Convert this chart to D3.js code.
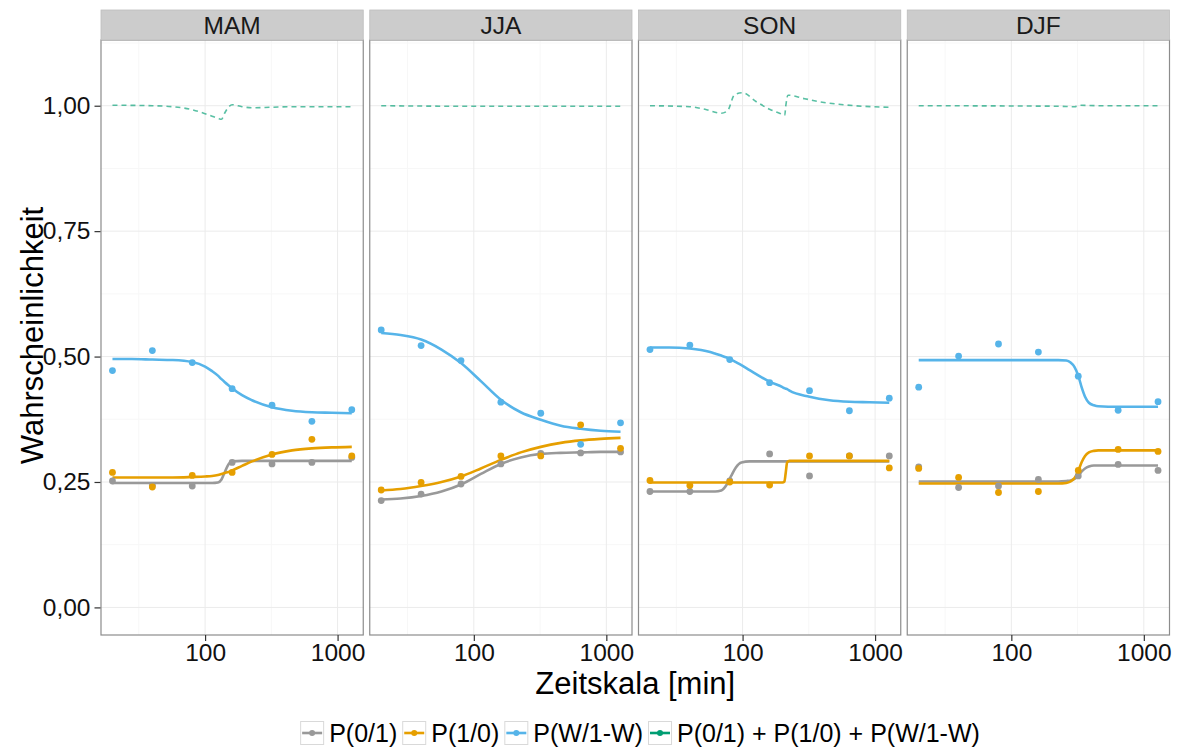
<!DOCTYPE html>
<html>
<head>
<meta charset="utf-8">
<script src="https://cdn.jsdelivr.net/npm/d3@7"></script>
<style>
  html, body { margin: 0; padding: 0; background: #ffffff; }
  svg { display: block; font-family: "Liberation Sans", Arial, sans-serif; }
</style>
</head>
<body>
<svg id="chart" width="1177" height="749"></svg>
<script>
// ---------------- DATA ----------------
const panels = ["MAM", "JJA", "SON", "DJF"];
const seriesNames = ["P(0/1)", "P(1/0)", "P(W/1-W)", "P(0/1) + P(1/0) + P(W/1-W)"];
const seriesColors = ["#999999", "#E69F00", "#56B4E9", "#009E73"];
const yTicks = [0, 0.25, 0.5, 0.75, 1.0];
const yTickLabels = ["0,00", "0,25", "0,50", "0,75", "1,00"];
const xTicks = [100, 1000];
const xTickLabels = ["100", "1000"];

// observed points (x = time scale in minutes)
const obsX = [20, 40, 80, 160, 320, 640, 1280];
const obsP01_MAM = [0.252, 0.243, 0.242, 0.289, 0.286, 0.289, 0.299];
const obsP10_MAM = [0.269, 0.240, 0.263, 0.269, 0.305, 0.335, 0.302];
const obsPW_MAM  = [0.472, 0.512, 0.488, 0.436, 0.403, 0.371, 0.394];
const obsP01_JJA = [0.213, 0.226, 0.246, 0.286, 0.307, 0.308, 0.310];
const obsP10_JJA = [0.234, 0.249, 0.261, 0.302, 0.302, 0.364, 0.317];
const obsPW_JJA  = [0.553, 0.522, 0.492, 0.409, 0.387, 0.325, 0.368];
const obsP01_SON = [0.231, 0.231, 0.252, 0.306, 0.262, 0.302, 0.302];
const obsP10_SON = [0.253, 0.243, 0.250, 0.244, 0.302, 0.302, 0.278];
const obsPW_SON  = [0.514, 0.523, 0.494, 0.448, 0.432, 0.392, 0.417];
const obsP01_DJF = [0.280, 0.239, 0.242, 0.255, 0.262, 0.285, 0.273];
const obsP10_DJF = [0.277, 0.259, 0.229, 0.231, 0.273, 0.315, 0.311];
const obsPW_DJF  = [0.439, 0.501, 0.525, 0.509, 0.461, 0.393, 0.410];

// fitted curves
const fitX_MAM   = [20, 28, 40, 57, 80, 100, 113, 125, 133, 141, 150, 160, 190, 226, 320, 453, 640, 905, 1280];
const fitP01_MAM = [0.248, 0.248, 0.248, 0.248, 0.248, 0.248, 0.248, 0.249, 0.255, 0.270, 0.285, 0.291, 0.292, 0.292, 0.292, 0.292, 0.292, 0.292, 0.292];
const fitP10_MAM = [0.259, 0.259, 0.259, 0.259, 0.260, 0.261, 0.262, 0.264, 0.266, 0.268, 0.270, 0.273, 0.282, 0.291, 0.305, 0.313, 0.317, 0.319, 0.320];
const fitPW_MAM  = [0.495, 0.495, 0.494, 0.493, 0.489, 0.480, 0.471, 0.462, 0.455, 0.449, 0.443, 0.437, 0.423, 0.413, 0.399, 0.392, 0.389, 0.388, 0.387];
const sumX_MAM   = [20, 40, 57, 80, 100, 113, 125, 133, 141, 150, 160, 190, 226, 320, 453, 640, 905, 1280];
const sum_MAM    = [1.001, 1.000, 0.998, 0.992, 0.984, 0.979, 0.975, 0.973, 0.986, 0.997, 1.002, 0.998, 0.996, 0.997, 0.998, 0.998, 0.998, 0.998];

const fitX_JJA   = [20, 28, 40, 57, 80, 113, 160, 226, 320, 453, 640, 905, 1280];
const fitP01_JJA = [0.215, 0.217, 0.222, 0.231, 0.245, 0.266, 0.286, 0.299, 0.306, 0.308, 0.309, 0.310, 0.310];
const fitP10_JJA = [0.233, 0.236, 0.242, 0.250, 0.261, 0.277, 0.294, 0.309, 0.320, 0.328, 0.333, 0.336, 0.338];
const fitPW_JJA  = [0.547, 0.543, 0.534, 0.514, 0.487, 0.451, 0.414, 0.389, 0.374, 0.362, 0.356, 0.352, 0.350];
const sumX_JJA   = [20, 80, 320, 1280];
const sum_JJA    = [1.000, 0.999, 0.999, 0.999];

const fitX_SON   = [20, 28, 40, 57, 62, 69, 76, 82, 89, 98, 113, 160, 200, 207, 212, 217, 226, 320, 453, 640, 905, 1280];
const fitP01_SON = [0.231, 0.231, 0.231, 0.231, 0.231, 0.233, 0.245, 0.262, 0.279, 0.289, 0.291, 0.291, 0.291, 0.291, 0.291, 0.291, 0.291, 0.291, 0.291, 0.291, 0.291, 0.291];
const fitP10_SON = [0.249, 0.249, 0.249, 0.249, 0.249, 0.249, 0.249, 0.249, 0.249, 0.249, 0.249, 0.249, 0.249, 0.251, 0.270, 0.289, 0.292, 0.292, 0.292, 0.292, 0.292, 0.292];
const fitPW_SON  = [0.518, 0.518, 0.516, 0.509, 0.506, 0.502, 0.498, 0.494, 0.489, 0.483, 0.473, 0.450, 0.439, 0.437, 0.436, 0.435, 0.432, 0.420, 0.413, 0.410, 0.409, 0.408];
const sumX_SON   = [20, 40, 52, 69, 77, 87, 100, 127, 160, 190, 208, 212, 220, 294, 400, 531, 800, 1280];
const sum_SON    = [1.000, 0.998, 0.993, 0.985, 0.990, 1.022, 1.026, 1.008, 0.993, 0.985, 0.981, 1.000, 1.021, 1.014, 1.007, 1.003, 0.999, 0.997];

const fitX_DJF   = [20, 28, 40, 57, 80, 113, 160, 226, 260, 280, 300, 320, 340, 360, 385, 420, 453, 640, 905, 1280];
const fitP01_DJF = [0.251, 0.251, 0.251, 0.251, 0.251, 0.251, 0.251, 0.251, 0.252, 0.253, 0.256, 0.262, 0.271, 0.277, 0.281, 0.283, 0.283, 0.283, 0.283, 0.283];
const fitP10_DJF = [0.247, 0.247, 0.247, 0.247, 0.247, 0.247, 0.247, 0.247, 0.248, 0.251, 0.258, 0.272, 0.290, 0.302, 0.309, 0.312, 0.313, 0.313, 0.313, 0.313];
const fitPW_DJF  = [0.493, 0.493, 0.493, 0.493, 0.493, 0.493, 0.493, 0.493, 0.492, 0.488, 0.479, 0.462, 0.438, 0.420, 0.408, 0.403, 0.401, 0.400, 0.400, 0.400];
const sumX_DJF   = [20, 226, 300, 330, 453, 1280];
const sum_DJF    = [1.000, 0.999, 0.998, 1.001, 1.000, 1.000];

// ---------------- TABLES ----------------
const obsTable = {
  MAM: [obsP01_MAM, obsP10_MAM, obsPW_MAM],
  JJA: [obsP01_JJA, obsP10_JJA, obsPW_JJA],
  SON: [obsP01_SON, obsP10_SON, obsPW_SON],
  DJF: [obsP01_DJF, obsP10_DJF, obsPW_DJF]
};
const fitTable = {
  MAM: { x: fitX_MAM, s: [fitP01_MAM, fitP10_MAM, fitPW_MAM], sx: sumX_MAM, sy: sum_MAM },
  JJA: { x: fitX_JJA, s: [fitP01_JJA, fitP10_JJA, fitPW_JJA], sx: sumX_JJA, sy: sum_JJA },
  SON: { x: fitX_SON, s: [fitP01_SON, fitP10_SON, fitPW_SON], sx: sumX_SON, sy: sum_SON },
  DJF: { x: fitX_DJF, s: [fitP01_DJF, fitP10_DJF, fitPW_DJF], sx: sumX_DJF, sy: sum_DJF }
};

// ---------------- LAYOUT ----------------
const svg = d3.select("#chart");
const font = "'Liberation Sans', Arial, sans-serif";
const plotLeft = 100.5, plotRight = 1170, gap = 5.5;
const panelW = (plotRight - plotLeft - gap * (panels.length - 1)) / panels.length;
const panelTop = 40, panelBottom = 635, stripTop = 10;

const panelX = d3.scaleBand().domain(panels)
  .range([plotLeft, plotRight + gap]).paddingInner(0).paddingOuter(0);

const lx0 = Math.log10(20), lx1 = Math.log10(1280), ex = (lx1 - lx0) * 0.05;
const x = d3.scaleLog().domain([Math.pow(10, lx0 - ex), Math.pow(10, lx1 + ex)]).range([0, panelW]);
const y = d3.scaleLinear().domain([-0.055, 1.131]).range([panelBottom, panelTop]);

const minorX = [Math.pow(10, 1.5), Math.pow(10, 2.5)];
const minorY = [0.125, 0.375, 0.625, 0.875, 1.125];

panels.forEach((p, pi) => {
  const g = svg.append("g").attr("transform", `translate(${panelX(p)},0)`);
  g.append("rect").attr("x", 0).attr("y", panelTop).attr("width", panelW)
    .attr("height", panelBottom - panelTop).attr("fill", "#ffffff");
  g.selectAll(".mgx").data(minorX).enter().append("line")
    .attr("x1", d => x(d)).attr("x2", d => x(d)).attr("y1", panelTop).attr("y2", panelBottom)
    .attr("stroke", "#F7F7F7").attr("stroke-width", 1);
  g.selectAll(".mgy").data(minorY).enter().append("line")
    .attr("x1", 0).attr("x2", panelW).attr("y1", d => y(d)).attr("y2", d => y(d))
    .attr("stroke", "#F7F7F7").attr("stroke-width", 1);
  g.selectAll(".gx").data(xTicks).enter().append("line")
    .attr("x1", d => x(d)).attr("x2", d => x(d)).attr("y1", panelTop).attr("y2", panelBottom)
    .attr("stroke", "#EBEBEB").attr("stroke-width", 1);
  g.selectAll(".gy").data(yTicks).enter().append("line")
    .attr("x1", 0).attr("x2", panelW).attr("y1", d => y(d)).attr("y2", d => y(d))
    .attr("stroke", "#EBEBEB").attr("stroke-width", 1);

  const ft = fitTable[p];
  [0, 1, 2].forEach(si => {
    const pts = ft.x.map((xv, i) => [x(xv), y(ft.s[si][i])]);
    g.append("path").attr("d", d3.line().curve(d3.curveMonotoneX)(pts))
      .attr("fill", "none").attr("stroke", seriesColors[si]).attr("stroke-width", 2.6)
      .attr("stroke-linejoin", "round").attr("stroke-linecap", "butt");
  });
  const sp = ft.sx.map((xv, i) => [x(xv), y(ft.sy[i])]);
  g.append("path").attr("d", d3.line().curve(d3.curveMonotoneX)(sp))
    .attr("fill", "none").attr("stroke", seriesColors[3]).attr("stroke-opacity", 0.65)
    .attr("stroke-width", 1.6).attr("stroke-dasharray", "5,4");
  [0, 1, 2].forEach(si => {
    g.selectAll(".pt" + si).data(obsX).enter().append("circle")
      .attr("cx", d => x(d)).attr("cy", (d, i) => y(obsTable[p][si][i]))
      .attr("r", 3.4).attr("fill", seriesColors[si]);
  });
  g.append("rect").attr("x", 0.5).attr("y", panelTop).attr("width", panelW - 1)
    .attr("height", panelBottom - panelTop).attr("fill", "none").attr("stroke", "#8C8C8C").attr("stroke-width", 1.2);
  g.append("rect").attr("x", 0.5).attr("y", stripTop).attr("width", panelW - 1)
    .attr("height", panelTop - stripTop).attr("fill", "#CCCCCC").attr("stroke", "#BDBDBD").attr("stroke-width", 0.8);
  g.append("text").attr("x", panelW / 2).attr("y", (stripTop + panelTop) / 2 + 9)
    .attr("text-anchor", "middle").attr("font-size", 24.5).attr("font-family", font)
    .attr("fill", "#1a1a1a").text(p);
  const ax = g.append("g").attr("transform", `translate(0,${panelBottom})`)
    .call(d3.axisBottom(x).tickValues(xTicks).tickFormat((d, i) => xTickLabels[i]).tickSizeOuter(0).tickSize(6).tickPadding(3));
  ax.select(".domain").remove();
  ax.selectAll("line").attr("stroke", "#333333").attr("stroke-width", 1.2);
  ax.selectAll("text").attr("font-size", 24.5).attr("font-family", font).attr("fill", "#111");
  if (pi === 0) {
    const ay = g.append("g")
      .call(d3.axisLeft(y).tickValues(yTicks).tickFormat((d, i) => yTickLabels[i]).tickSizeOuter(0).tickSize(6).tickPadding(4));
    ay.select(".domain").remove();
    ay.selectAll("line").attr("stroke", "#333333").attr("stroke-width", 1.2);
    ay.selectAll("text").attr("font-size", 24.5).attr("font-family", font).attr("fill", "#111");
  }
});

// axis titles
svg.append("text").attr("x", (plotLeft + plotRight) / 2).attr("y", 694)
  .attr("text-anchor", "middle").attr("font-size", 31).attr("font-family", font).attr("fill", "#000")
  .text("Zeitskala [min]");
svg.append("text").attr("transform", `translate(43,${(panelTop + panelBottom) / 2 - 2}) rotate(-90)`)
  .attr("text-anchor", "middle").attr("font-size", 31).attr("font-family", font).attr("fill", "#000")
  .text("Wahrscheinlichkeit");

// legend
const leg = svg.append("g");
const keyS = 24, legY = 721;
const items = [];
seriesNames.forEach((name, i) => {
  const it = leg.append("g");
  it.append("rect").attr("x", 0.5).attr("y", legY + 0.5).attr("width", keyS - 1).attr("height", keyS - 1)
    .attr("fill", "#ffffff").attr("stroke", "#D9D9D9").attr("stroke-width", 1);
  it.append("line").attr("x1", 2).attr("x2", keyS - 2).attr("y1", legY + keyS / 2).attr("y2", legY + keyS / 2)
    .attr("stroke", seriesColors[i]).attr("stroke-width", 2.6);
  it.append("circle").attr("cx", keyS / 2).attr("cy", legY + keyS / 2).attr("r", 3)
    .attr("fill", seriesColors[i]);
  const t = it.append("text").attr("x", keyS + 5).attr("y", legY + keyS / 2 + 9)
    .attr("font-size", 25).attr("font-family", font).attr("fill", "#000").text(name);
  const w = keyS + 5 + t.node().getComputedTextLength();
  items.push({ it, w });
});
const totalW = d3.sum(items, d => d.w) + 5 * (items.length - 1);
let cx = 640 - totalW / 2;
items.forEach(d => { d.it.attr("transform", `translate(${cx},0)`); cx += d.w + 5; });
</script>
</body>
</html>
